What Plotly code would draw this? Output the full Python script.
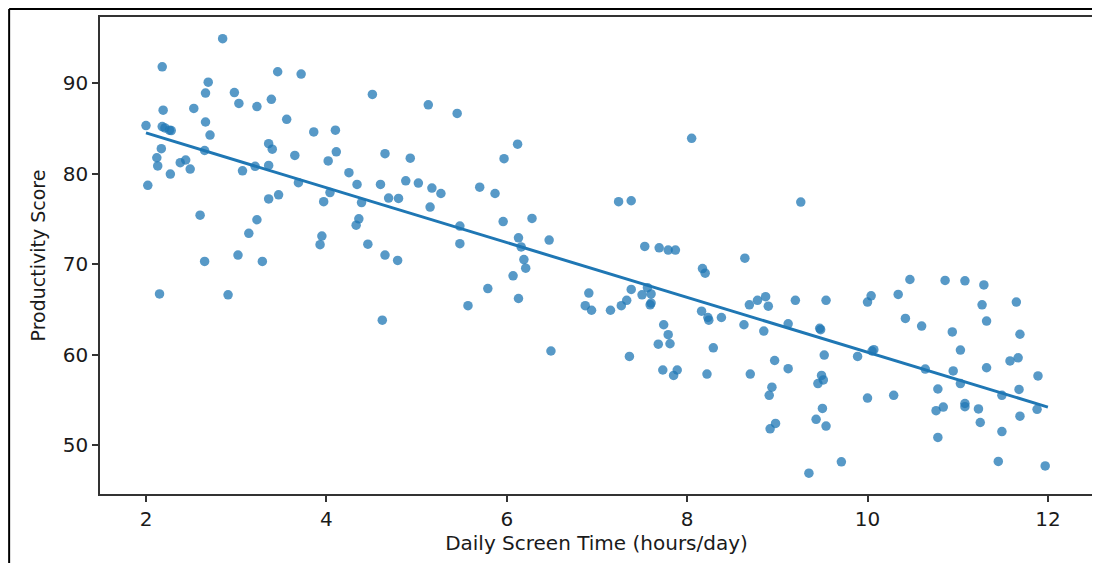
import plotly.graph_objects as go

# Daily screen time (hours/day)
screen_time = [
    2.85, 2.18, 3.46, 3.72, 2.69, 2.66, 2.98, 3.03, 3.23, 3.39,
    2.53, 2.19, 3.56, 2.66, 3.86, 2.00, 2.18, 2.21, 2.26, 2.28,
    2.71, 3.36, 3.40, 2.17, 2.65, 3.65, 2.12, 2.13, 2.38, 2.44,
    2.49, 2.27, 3.07, 3.21, 3.36, 2.02, 3.69, 4.02, 3.47, 3.36,
    3.97, 4.04, 2.60, 3.23, 3.14, 3.95, 3.93, 2.65, 3.02, 3.29,
    2.15, 2.91, 4.51, 5.13, 5.45, 4.10, 4.11, 4.65, 4.93, 6.12,
    5.97, 4.25, 4.34, 4.60, 4.88, 5.02, 5.17, 5.27, 5.70, 5.87,
    5.15, 4.39, 4.69, 4.80, 4.36, 4.33, 5.48, 5.96, 6.13, 4.46,
    5.48, 4.65, 4.79, 6.07, 5.79, 5.57, 6.13, 4.62, 8.05, 7.24,
    7.38, 6.28, 6.16, 6.47, 6.19, 6.21, 7.53, 7.69, 7.79, 7.87,
    6.91, 6.87, 6.94, 7.15, 7.27, 7.33, 7.38, 7.50, 7.60, 7.56,
    7.59, 7.60, 7.74, 7.79, 7.68, 7.81, 6.49, 7.36, 7.73, 7.89,
    7.85, 9.26, 8.64, 8.17, 8.20, 8.87, 8.78, 8.69, 8.90, 9.20,
    9.54, 10.04, 10.00, 8.16, 8.23, 8.24, 8.38, 8.63, 8.85, 9.12,
    9.47, 9.48, 10.05, 10.07, 8.29, 8.97, 9.52, 9.89, 9.12, 8.22,
    8.70, 9.49, 9.51, 9.45, 8.94, 8.91, 10.00, 9.50, 9.43, 8.92,
    8.98, 9.54, 9.35, 9.71, 10.47, 10.86, 11.08, 11.29, 10.34, 11.27,
    11.65, 10.42, 10.60, 11.32, 10.94, 11.69, 11.03, 10.64, 10.95, 11.32,
    11.58, 11.67, 11.89, 11.03, 10.78, 11.49, 11.68, 10.29, 10.76, 10.84,
    11.08, 11.08, 11.23, 11.88, 11.69, 11.25, 11.49, 10.78, 11.45, 11.97,
]

# Productivity score
productivity = [
    94.9, 91.8, 91.25, 91.0, 90.1, 88.9, 88.95, 87.75, 87.4, 88.2,
    87.2, 87.0, 86.0, 85.7, 84.6, 85.3, 85.2, 85.05, 84.8, 84.75,
    84.25, 83.3, 82.7, 82.75, 82.55, 82.0, 81.75, 80.85, 81.2, 81.5,
    80.5, 79.95, 80.3, 80.8, 80.9, 78.7, 79.0, 81.4, 77.65, 77.2,
    76.9, 77.9, 75.4, 74.9, 73.4, 73.1, 72.15, 70.3, 71.0, 70.3,
    66.7, 66.6, 88.75, 87.6, 86.65, 84.8, 82.4, 82.2, 81.7, 83.25,
    81.65, 80.1, 78.8, 78.8, 79.2, 78.95, 78.4, 77.8, 78.5, 77.8,
    76.3, 76.8, 77.3, 77.25, 75.0, 74.3, 74.2, 74.7, 72.9, 72.2,
    72.25, 71.0, 70.4, 68.7, 67.3, 65.4, 66.2, 63.8, 83.9, 76.9,
    77.0, 75.05, 71.9, 72.65, 70.5, 69.55, 71.95, 71.8, 71.55, 71.55,
    66.8, 65.4, 64.9, 64.9, 65.4, 66.0, 67.2, 66.6, 66.7, 67.4,
    65.5, 65.7, 63.3, 62.2, 61.15, 61.2, 60.4, 59.8, 58.3, 58.3,
    57.7, 76.85, 70.65, 69.5, 69.0, 66.4, 66.0, 65.5, 65.35, 66.0,
    66.0, 66.5, 65.8, 64.8, 64.1, 63.8, 64.1, 63.3, 62.6, 63.4,
    62.9, 62.75, 60.4, 60.55, 60.75, 59.35, 59.95, 59.8, 58.45, 57.85,
    57.85, 57.7, 57.2, 56.8, 56.4, 55.5, 55.2, 54.05, 52.85, 51.8,
    52.4, 52.1, 46.9, 48.15, 68.3, 68.2, 68.15, 67.7, 66.65, 65.5,
    65.8, 64.0, 63.15, 63.7, 62.5, 62.25, 60.5, 58.4, 58.2, 58.55,
    59.3, 59.65, 57.65, 56.8, 56.2, 55.5, 56.15, 55.5, 53.8, 54.2,
    54.6, 54.25, 54.0, 53.95, 53.2, 52.5, 51.5, 50.85, 48.2, 47.7,
]

# Regression line
fit_x = [2.0, 12.0]
fit_y = [84.5, 54.2]

x_ticks = [2, 4, 6, 8, 10, 12]
y_ticks = [50, 60, 70, 80, 90]

BLUE = "#1f77b4"
FONT = "DejaVu Sans"

fig = go.Figure()
fig.add_trace(go.Scatter(
    x=screen_time, y=productivity, mode="markers",
    marker=dict(color=BLUE, size=9.5, opacity=0.75, line=dict(width=0)),
    showlegend=False, hoverinfo="x+y",
))
fig.add_trace(go.Scatter(
    x=fit_x, y=fit_y, mode="lines",
    line=dict(color=BLUE, width=3),
    showlegend=False,
))

axis_common = dict(
    showline=True, mirror=True, linecolor="#333333", linewidth=1.5,
    ticks="outside", ticklen=6, tickwidth=1.5, tickcolor="#333333",
    showgrid=False, zeroline=False,
    tickfont=dict(family=FONT, size=20, color="#1a1a1a"),
)

fig.update_xaxes(
    range=[1.49, 12.5], tickvals=x_ticks,
    title=dict(text="Daily Screen Time (hours/day)",
               font=dict(family=FONT, size=20, color="#1a1a1a"), standoff=4),
    **axis_common,
)
fig.update_yaxes(
    range=[44.6, 97.3], tickvals=y_ticks,
    title=dict(text="Productivity Score",
               font=dict(family=FONT, size=19, color="#1a1a1a"), standoff=12),
    **axis_common,
)

# The page body adds an 8px offset, so the figure is sized to compensate.
fig.update_layout(
    width=1092, height=555,
    margin=dict(l=92, r=5, t=9, b=69),
    paper_bgcolor="white", plot_bgcolor="white",
    shapes=[
        dict(type="line", xref="paper", yref="paper",
             x0=-0.0915, x1=-0.0915, y0=-0.2, y1=1.0168,
             line=dict(color="black", width=2)),
        dict(type="line", xref="paper", yref="paper",
             x0=-0.0915, x1=1.01, y0=1.0168, y1=1.0168,
             line=dict(color="black", width=2)),
    ],
)

fig.write_html("out.html")
